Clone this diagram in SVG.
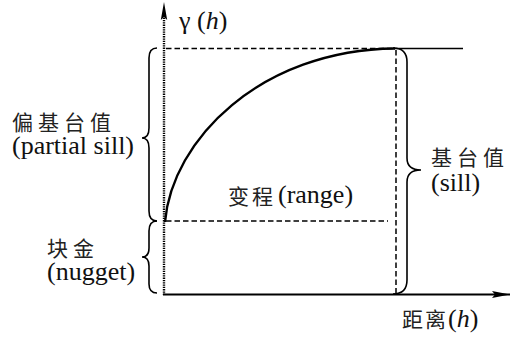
<svg xmlns="http://www.w3.org/2000/svg" width="518" height="338" viewBox="0 0 518 338">
<defs>
<style>
.ln{fill:none;stroke:#000;stroke-width:1.6}
.ax{fill:none;stroke:#000;stroke-width:2}
.dot{fill:none;stroke:#000;stroke-width:2.4;stroke-dasharray:1.3 1}
.dash{fill:none;stroke:#000;stroke-width:1.5;stroke-dasharray:5.5 3}
.br{fill:none;stroke:#000;stroke-width:1.6}
.lat{font-family:"Liberation Serif","Times New Roman",serif;font-size:26px;fill:#111}
.cjk{font-family:"Noto Sans CJK SC","Noto Sans CJK JP",sans-serif;font-size:21px;fill:#222;letter-spacing:5px}
</style>
<marker id="ah" viewBox="0 0 18 8" refX="18" refY="4" markerWidth="18" markerHeight="8" markerUnits="userSpaceOnUse" orient="auto">
<path d="M0,0.5 L18,4 L0,7.5 L3,4 Z" fill="#000"/>
</marker>
</defs>
<rect width="518" height="338" fill="#fff"/>
<g id="connectors">
<path class="dot" d="M164,295 V12"/>
<path d="M164,2 L160.8,20 L164,17 L167.2,20 Z" fill="#000"/>
<path class="ax" d="M163,294.5 H510" marker-end="url(#ah)"/>
<path class="dash" d="M166,48.5 H394"/>
<path class="ln" d="M394,48.5 H463"/>
<path class="dash" d="M396,50 V293"/>
<path class="dash" d="M166,221 H388"/>
<path d="M165,222 C172,140 260,50 395,48.5" fill="none" stroke="#000" stroke-width="2.4"/>
</g>
<g id="brace-partial-sill">
<path class="br" d="M157,48 Q149,48 149,58 L149,128 Q149,138 142,138 Q149,138 149,148 L149,211 Q149,221 157,221"/>
</g>
<g id="brace-nugget">
<path class="br" d="M157,221 Q149,221 149,231 L149,248 Q149,257 142,257 Q149,257 149,266 L149,284 Q149,293 157,293"/>
</g>
<g id="brace-sill">
<path class="br" d="M393,48 Q407,48 407,62 L407,158 Q407,170 421,170 Q407,170 407,182 L407,280 Q407,294 393,294"/>
</g>
<g id="label-gamma">
<text class="lat" x="179" y="29">γ (<tspan font-style="italic">h</tspan>)</text>
</g>
<g id="label-partial-sill">
<text class="cjk" x="12" y="130">偏基台值</text>
<text class="lat" x="12" y="154">(partial sill)</text>
</g>
<g id="label-nugget">
<text class="cjk" x="47" y="256">块金</text>
<text class="lat" x="47" y="280">(nugget)</text>
</g>
<g id="label-range">
<text class="cjk" x="228" y="204" style="letter-spacing:3px">变程</text>
<text class="lat" x="278" y="203">(range)</text>
</g>
<g id="label-sill">
<text class="cjk" x="431" y="165">基台值</text>
<text class="lat" x="431" y="191">(sill)</text>
</g>
<g id="label-distance">
<text class="cjk" x="402" y="327" style="letter-spacing:2px">距离</text>
<text class="lat" x="448" y="327">(<tspan font-style="italic">h</tspan>)</text>
</g>
</svg>
